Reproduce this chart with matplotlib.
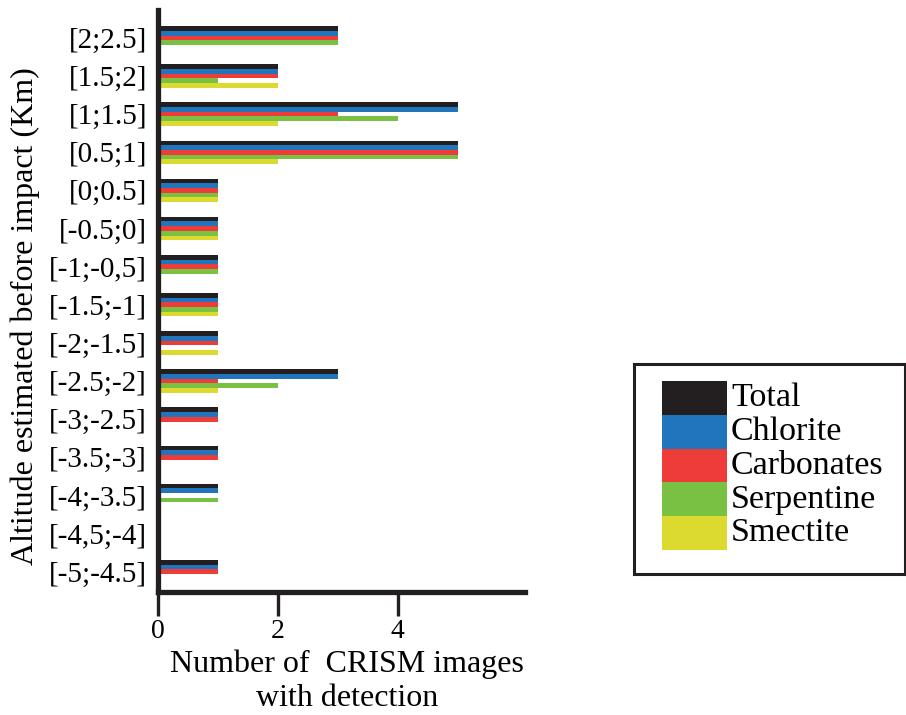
import numpy as np
import matplotlib
matplotlib.use("Agg")
import matplotlib.pyplot as plt
from matplotlib.patches import Rectangle

plt.rcParams['font.family'] = ['Liberation Serif', 'DejaVu Serif']

# altitude classes, top to bottom
categories = ["[2;2.5]", "[1.5;2]", "[1;1.5]", "[0.5;1]", "[0;0.5]", "[-0.5;0]",
              "[-1;-0,5]", "[-1.5;-1]", "[-2;-1.5]", "[-2.5;-2]", "[-3;-2.5]",
              "[-3.5;-3]", "[-4;-3.5]", "[-4,5;-4]", "[-5;-4.5]"]
total      = [3, 2, 5, 5, 1, 1, 1, 1, 1, 3, 1, 1, 1, 0, 1]
chlorite   = [3, 2, 5, 5, 1, 1, 1, 1, 1, 3, 1, 1, 1, 0, 1]
carbonates = [3, 2, 3, 5, 1, 1, 1, 1, 1, 1, 1, 1, 0, 0, 1]
serpentine = [3, 1, 4, 5, 1, 1, 1, 1, 0, 2, 0, 0, 1, 0, 0]
smectite   = [0, 2, 2, 2, 1, 1, 0, 1, 1, 1, 0, 0, 0, 0, 0]

names = ["Total", "Chlorite", "Carbonates", "Serpentine", "Smectite"]
colors = ["#231f20", "#2175bc", "#ee3d38", "#79c143", "#dcda2f"]
series = [total, chlorite, carbonates, serpentine, smectite]

fig = plt.figure(figsize=(9.06, 7.15), dpi=100)
ax = fig.add_axes([0.1744, 0.1727, 0.405, 0.8133])

n = len(categories)
y = np.arange(n)[::-1]
h = 0.123
for k, (vals, c) in enumerate(zip(series, colors)):
    ax.barh(y + (2 - k) * h, vals, height=h, color=c, linewidth=0)

ax.set_xlim(0, 6.12)
ax.set_ylim(-0.52, 14.73)
ax.set_yticks(y)
ax.set_yticklabels(categories, fontsize=21)
ax.tick_params(axis='y', length=0, pad=8)
ax.set_xticks([0, 2, 4])
ax.tick_params(axis='x', direction='out', length=17, width=2.4,
               color="#231f20", labelsize=20, pad=3)

for s in ['top', 'right']:
    ax.spines[s].set_visible(False)
for s in ['left', 'bottom']:
    ax.spines[s].set_linewidth(3.8)
    ax.spines[s].set_color("#231f20")

ax.set_xlabel("Number of  CRISM images\nwith detection", fontsize=23,
              linespacing=1.2, va='top')
ax.xaxis.set_label_coords(0.515, -0.1)
ax.set_ylabel("Altitude estimated before impact (Km)", fontsize=23, va='center')
ax.yaxis.set_label_coords(-0.362, 0.474)

# legend box
lax = fig.add_axes([634 / 906, 1 - 574 / 715, 271 / 906, 210 / 715])
lax.set_xlim(0, 271)
lax.set_ylim(210, 0)
lax.set_xticks([])
lax.set_yticks([])
for s in lax.spines.values():
    s.set_linewidth(2.2)
    s.set_color("#231f20")
for k, (name, c) in enumerate(zip(names, colors)):
    top = 17 + k * 33.8
    lax.add_patch(Rectangle((28, top), 65, 33.8, color=c, linewidth=0))
    lax.text(97, top + 17, name, fontsize=24.5, va='center', ha='left')

fig.savefig("out.png", dpi=100)
